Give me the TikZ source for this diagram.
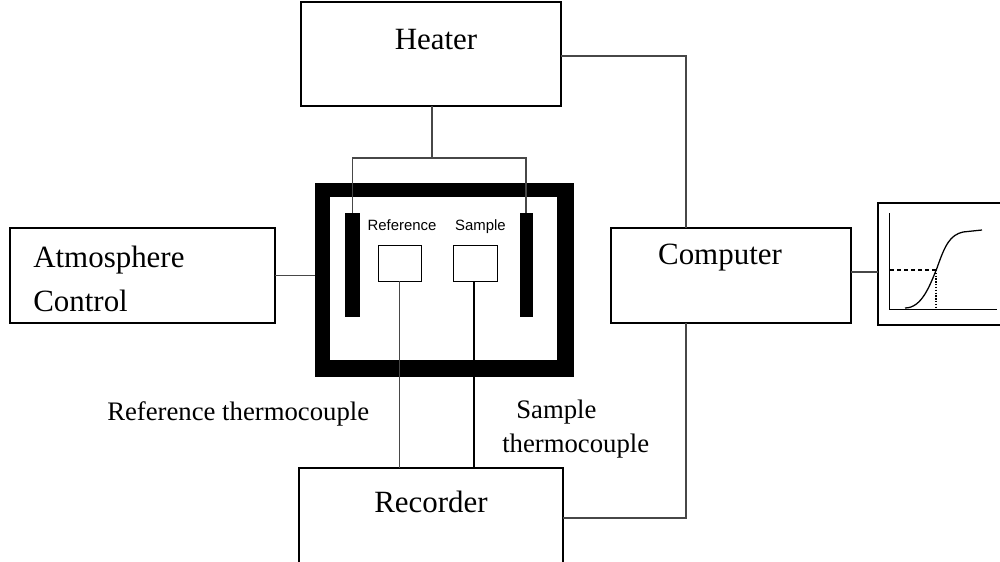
\documentclass[tikz,border=0pt]{standalone}
\usepackage{fontspec}
\setmainfont{Liberation Serif}
\setsansfont{Liberation Sans}
\usepackage{tikz}
\tikzset{
    box/.style={draw, line width=.9pt, inner sep=0pt, outer sep=0pt, rectangle},
    title/.style={inner sep=0pt, font=\fontsize{22}{31}\selectfont, align=left},
    note/.style={inner sep=0pt, font=\fontsize{19}{24}\selectfont, align=left},
    small/.style={inner sep=0pt, font=\sffamily\fontsize{10.6}{13}\selectfont},
    wire/.style={line width=.9pt, color=black!72}
}

\begin{document}
\begin{tikzpicture}[x=.025cm, y=-.025cm]
            \clip (0, 0) rectangle (1000, 561);
            % boxes
            \node[box, minimum width=6.5cm, minimum height=2.6cm] (heater) at (431, 54) {};
            \node[box, minimum width=6.625cm, minimum height=2.375cm] (atmosphere) at (142.5, 275.5) {};
            \node[box, minimum width=6cm, minimum height=2.375cm] (computer) at (731, 275.5) {};
            \node[box, minimum width=6.6cm, minimum height=3cm] (recorder) at (431, 528) {};
            % furnace
            \node[fill=black, minimum width=6.475cm, minimum height=4.85cm, inner sep=0pt, outer sep=0pt] (furnace) at (444.5, 280) {};
            \node[fill=white, minimum width=5.675cm, minimum height=4.075cm, inner sep=0pt, outer sep=0pt] (chamber) at (443.5, 278.5) {};
            \node[fill=black, minimum width=.375cm, minimum height=2.6cm, inner sep=0pt, outer sep=0pt] (lefthot) at (352.5, 265) {};
            \node[fill=black, minimum width=.325cm, minimum height=2.6cm, inner sep=0pt, outer sep=0pt] (righthot) at (526, 265) {};
            \node[box, line width=.6pt, minimum width=1.075cm, minimum height=.9cm] (refpan) at (399.5, 263) {};
            \node[box, line width=.6pt, minimum width=1.1cm, minimum height=.9cm] (samplepan) at (475, 263) {};
            \node[small] (reflabel) at (402, 225) {Reference};
            \node[small] (samplelabel) at (480.5, 227) {Sample};
            % labels
            \node[title] (heatertext) at (436, 40) {Heater};
            \node[title, anchor=west] (atmospheretext) at (33, 279) {Atmosphere\\Control};
            \node[title] (computertext) at (720, 258) {Computer};
            \node[title] (recordertext) at (431, 502) {Recorder};
            \node[note, anchor=west] (reftext) at (107, 414) {Reference thermocouple};
            \node[note, anchor=west] (sampletext) at (502, 429) {\hspace*{.35cm}Sample\\thermocouple};
            % connectors
            \coordinate (split) at (432, 158);
            \coordinate (heatcomp) at (686, 56);
            \coordinate (reccomp) at (686, 518);
            \draw[wire] (heater.south -| split) -- (split);
            \draw[wire] (lefthot.north) -- (lefthot.north |- split) -- (righthot.north |- split) -- (righthot.north);
            \draw[wire] (heatcomp -| heater.east) -- (heatcomp) -- (heatcomp |- computer.north);
            \draw[wire] (heatcomp |- computer.south) -- (reccomp) -- (reccomp -| recorder.east);
            \draw[wire] (atmosphere.east) -- (furnace.west |- atmosphere.east);
            \draw[wire] (refpan.south) -- (refpan.south |- recorder.north);
            \draw[line width=1.5pt] (samplepan.south -| 474, 0) -- (474, 0 |- recorder.north);
            % plot
            \node[draw, line width=1.1pt, minimum width=3.2cm, minimum height=3.05cm, inner sep=0pt, outer sep=0pt] (plot) at (942, 264) {};
            \draw[line width=1.8pt] (plot.north west) -- (plot.south west) -- (plot.south east);
            \draw[wire] (computer.east |- 0, 272) -- (plot.west |- 0, 272);
            \draw[line width=.5pt] (plot.west) ++(11, -51) coordinate (top) -- ++(0, 96) coordinate (origin) -- ++(108, 0);
            \draw[line width=.9pt] (905, 308) .. controls (922, 308) and (930, 285) .. (937, 268) .. controls (945, 245) and (950, 235) .. (963, 232) -- (982, 230);
            \draw[line width=.8pt, densely dashed] (890, 270) -- (936, 270);
            \draw[line width=1pt, densely dotted] (936, 270) -- (936, 308);
        \end{tikzpicture}
\end{document}
